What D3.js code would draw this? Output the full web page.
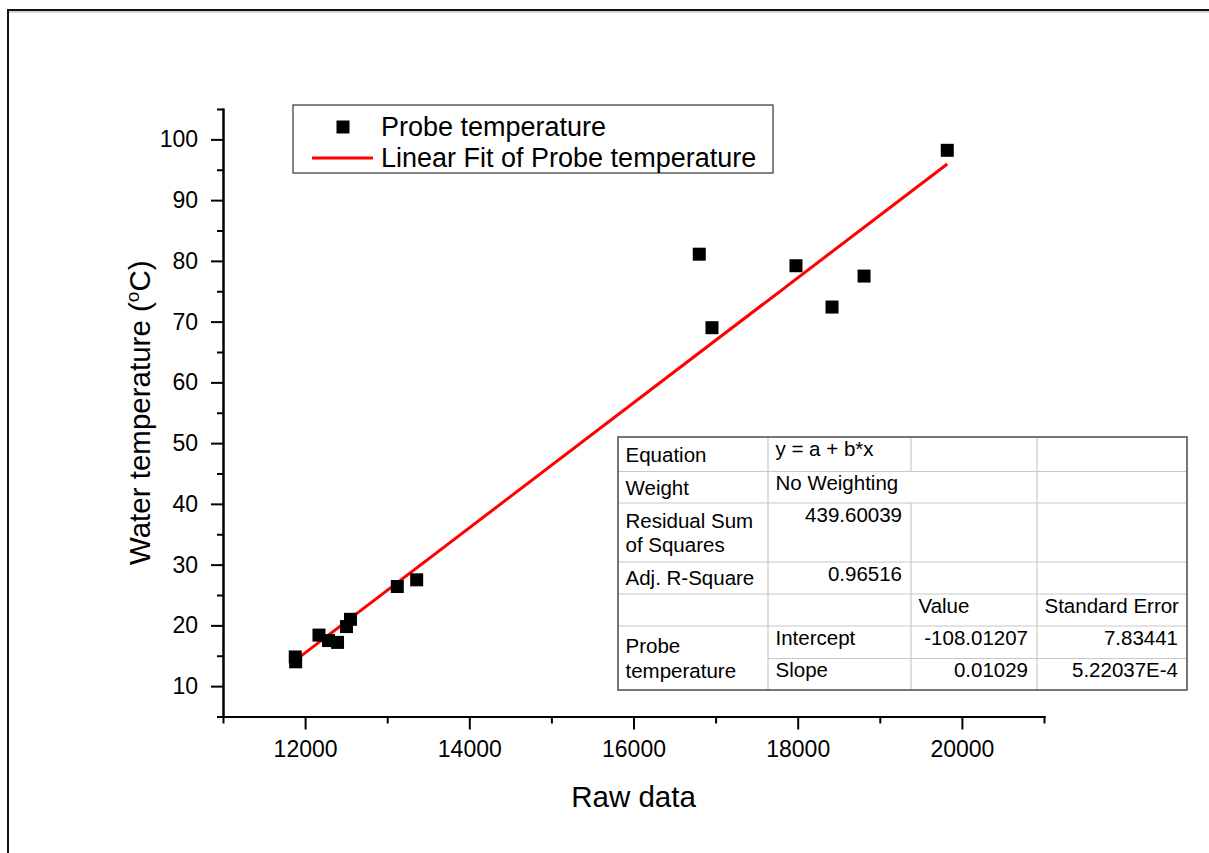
<!DOCTYPE html>
<html>
<head>
<meta charset="utf-8">
<script src="https://cdn.jsdelivr.net/npm/d3@7"></script>
<style>
    body { margin: 0; background: #fff; }
    text { font-family: "Liberation Sans", Arial, sans-serif; fill: #000; }
    .axis path, .axis line { stroke: #000; stroke-width: 2; }
    .axis text { font-size: 23px; }
</style>
</head>
<body>
<div id="chart"></div>
<script>

// data
const rawData = [11880, 11885, 12169, 12285, 12395, 12504, 12553, 13123, 13359, 16801, 16956, 17979, 18418, 18808, 19822];
const waterTemp = [14.8, 14.0, 18.4, 17.5, 17.2, 19.8, 21.0, 26.4, 27.5, 81.1, 69.0, 79.2, 72.4, 77.5, 98.2];

// fit parameters (from the table)
const fitIntercept = -108.01207;
const fitSlope = 0.01029;

const xMajorTicks = [12000, 14000, 16000, 18000, 20000];
const xMinorTicks = [11000, 13000, 15000, 17000, 19000, 21000];
const yMajorTicks = [10, 20, 30, 40, 50, 60, 70, 80, 90, 100];
const yMinorTicks = [5, 15, 25, 35, 45, 55, 65, 75, 85, 95, 105];

const legendLabels = ["Probe temperature", "Linear Fit of Probe temperature"];

const tableRows = [
    ["Equation", "y = a + b*x", "", ""],
    ["Weight", "No Weighting", "", ""],
    ["Residual Sum\nof Squares", "439.60039", "", ""],
    ["Adj. R-Square", "0.96516", "", ""],
    ["", "", "Value", "Standard Error"],
    ["Probe\ntemperature", "Intercept", "-108.01207", "7.83441"],
    ["", "Slope", "0.01029", "5.22037E-4"]
];

const points = rawData.map(function (d, i) {
    return { x: d, y: waterTemp[i] };
});

/*
SVG
*/
const width = 1209;
const height = 853;
const margin = { top: 109, left: 223, right: 165, bottom: 136.5 };

const svg = d3.select("#chart")
    .append("svg")
    .attr("width", width)
    .attr("height", height);

// outer frame
svg.append("path")
    .attr("d", "M8,853V10H1209")
    .attr("fill", "none")
    .attr("stroke", "#111")
    .attr("stroke-width", 2);
svg.append("line")
    .attr("x1", 9).attr("x2", 1209)
    .attr("y1", 12).attr("y2", 12)
    .attr("stroke", "#aaa")
    .attr("stroke-width", 1);

/*
SCALES
*/
const xScale = d3.scaleLinear()
    .domain([11000, 21000])
    .range([margin.left, width - margin.right]);

const yScale = d3.scaleLinear()
    .domain([5, 105])
    .range([height - margin.bottom, margin.top]);

/*
AXES
*/
const xAxis = svg.append("g")
    .attr("class", "axis")
    .attr("transform", `translate(0,${height - margin.bottom})`)
    .call(d3.axisBottom(xScale).tickValues(xMajorTicks).tickSize(13).tickSizeOuter(0).tickPadding(11).tickFormat(d3.format("d")));

svg.append("g")
    .attr("class", "axis")
    .attr("transform", `translate(0,${height - margin.bottom})`)
    .call(d3.axisBottom(xScale).tickValues(xMinorTicks).tickSize(7).tickSizeOuter(0).tickFormat(""));

const yAxis = svg.append("g")
    .attr("class", "axis")
    .attr("transform", `translate(${margin.left},0)`)
    .call(d3.axisLeft(yScale).tickValues(yMajorTicks).tickSize(12).tickSizeOuter(0).tickPadding(13));

svg.append("g")
    .attr("class", "axis")
    .attr("transform", `translate(${margin.left},0)`)
    .call(d3.axisLeft(yScale).tickValues(yMinorTicks).tickSize(6).tickSizeOuter(0).tickFormat(""));

svg.selectAll(".axis .domain").attr("stroke-linecap", "square");

/*
AXIS LABELS
*/
svg.append("text")
    .attr("x", (xScale.range()[0] + xScale.range()[1]) / 2)
    .attr("y", 807)
    .attr("text-anchor", "middle")
    .style("font-size", "29.5px")
    .text("Raw data");

const yLabel = svg.append("text")
    .attr("transform", `translate(150,${(yScale.range()[0] + yScale.range()[1]) / 2}) rotate(-90)`)
    .attr("text-anchor", "middle")
    .style("font-size", "29.5px");
yLabel.append("tspan").text("Water temperature (");
yLabel.append("tspan").text("o").style("font-size", "19px").attr("dy", -11);
yLabel.append("tspan").text("C)").attr("dy", 11);

/*
FIT LINE
*/
const xExtent = d3.extent(rawData);
const fitLine = d3.line()
    .x(function (d) { return xScale(d); })
    .y(function (d) { return yScale(fitIntercept + fitSlope * d); });

svg.append("path")
    .datum(xExtent)
    .attr("d", fitLine)
    .attr("fill", "none")
    .attr("stroke", "#ff0000")
    .attr("stroke-width", 3);

/*
POINTS
*/
const sq = 13;
svg.selectAll(".pt")
    .data(points)
    .enter()
    .append("rect")
    .attr("class", "pt")
    .attr("x", function (d) { return xScale(d.x) - sq / 2; })
    .attr("y", function (d) { return yScale(d.y) - sq / 2; })
    .attr("width", sq)
    .attr("height", sq)
    .attr("fill", "#000");

/*
LEGEND
*/
const legend = svg.append("g").attr("transform", "translate(293,105)");
legend.append("rect")
    .attr("width", 480)
    .attr("height", 68)
    .attr("fill", "#fff")
    .attr("stroke", "#333")
    .attr("stroke-width", 1.2);
legend.append("rect")
    .attr("x", 50 - sq / 2).attr("y", 22 - sq / 2)
    .attr("width", sq).attr("height", sq)
    .attr("fill", "#000");
legend.append("line")
    .attr("x1", 19).attr("x2", 80)
    .attr("y1", 53).attr("y2", 53)
    .attr("stroke", "#ff0000")
    .attr("stroke-width", 3);
legend.selectAll(".lt")
    .data(legendLabels)
    .enter()
    .append("text")
    .attr("x", 88)
    .attr("y", function (d, i) { return 31 + i * 31; })
    .style("font-size", "27px")
    .text(function (d) { return d; });

/*
TABLE
*/
const colEdges = [618, 768, 911, 1037, 1187];
const rowEdges = [437, 471.5, 503, 562, 594, 626, 658.5, 690];
const table = svg.append("g");

table.append("rect")
    .attr("x", colEdges[0]).attr("y", rowEdges[0])
    .attr("width", colEdges[4] - colEdges[0])
    .attr("height", rowEdges[7] - rowEdges[0])
    .attr("fill", "#fff");

// inner grid (skip merged cells)
for (let r = 1; r < rowEdges.length - 1; r++) {
    const x0 = r === 6 ? colEdges[1] : colEdges[0];
    table.append("line")
        .attr("x1", x0).attr("x2", colEdges[4])
        .attr("y1", rowEdges[r]).attr("y2", rowEdges[r])
        .attr("stroke", "#c8c8c8").attr("stroke-width", 1.2);
}
for (let c = 1; c < colEdges.length - 1; c++) {
    for (let r = 0; r < rowEdges.length - 1; r++) {
        if (c === 2 && r === 1) continue;
        table.append("line")
            .attr("x1", colEdges[c]).attr("x2", colEdges[c])
            .attr("y1", rowEdges[r]).attr("y2", rowEdges[r + 1])
            .attr("stroke", "#c8c8c8").attr("stroke-width", 1.2);
    }
}
table.append("rect")
    .attr("x", colEdges[0]).attr("y", rowEdges[0])
    .attr("width", colEdges[4] - colEdges[0])
    .attr("height", rowEdges[7] - rowEdges[0])
    .attr("fill", "none")
    .attr("stroke", "#555")
    .attr("stroke-width", 1.6);

const isNumber = /^-?[\d.]+(E-?\d+)?$/;
tableRows.forEach(function (row, r) {
    row.forEach(function (cell, c) {
        if (cell === "") return;
        const lines = cell.split("\n");
        let cy;
        if (c === 0) {
            // first column: centred, the last row block is merged
            const bottom = r === 5 ? rowEdges[7] : rowEdges[r + 1];
            cy = (rowEdges[r] + bottom) / 2 - (lines.length - 1) * 12.25;
        } else {
            cy = rowEdges[r] + 11.5;
        }
        const right = isNumber.test(cell);
        const t = table.append("text")
            .attr("text-anchor", right ? "end" : "start")
            .style("font-size", "20.5px");
        lines.forEach(function (ln, i) {
            t.append("tspan")
                .attr("x", right ? colEdges[c + 1] - 9 : colEdges[c] + 7.5)
                .attr("y", cy + 7.3 + i * 24.5)
                .text(ln);
        });
    });
});

</script>
</body>
</html>
